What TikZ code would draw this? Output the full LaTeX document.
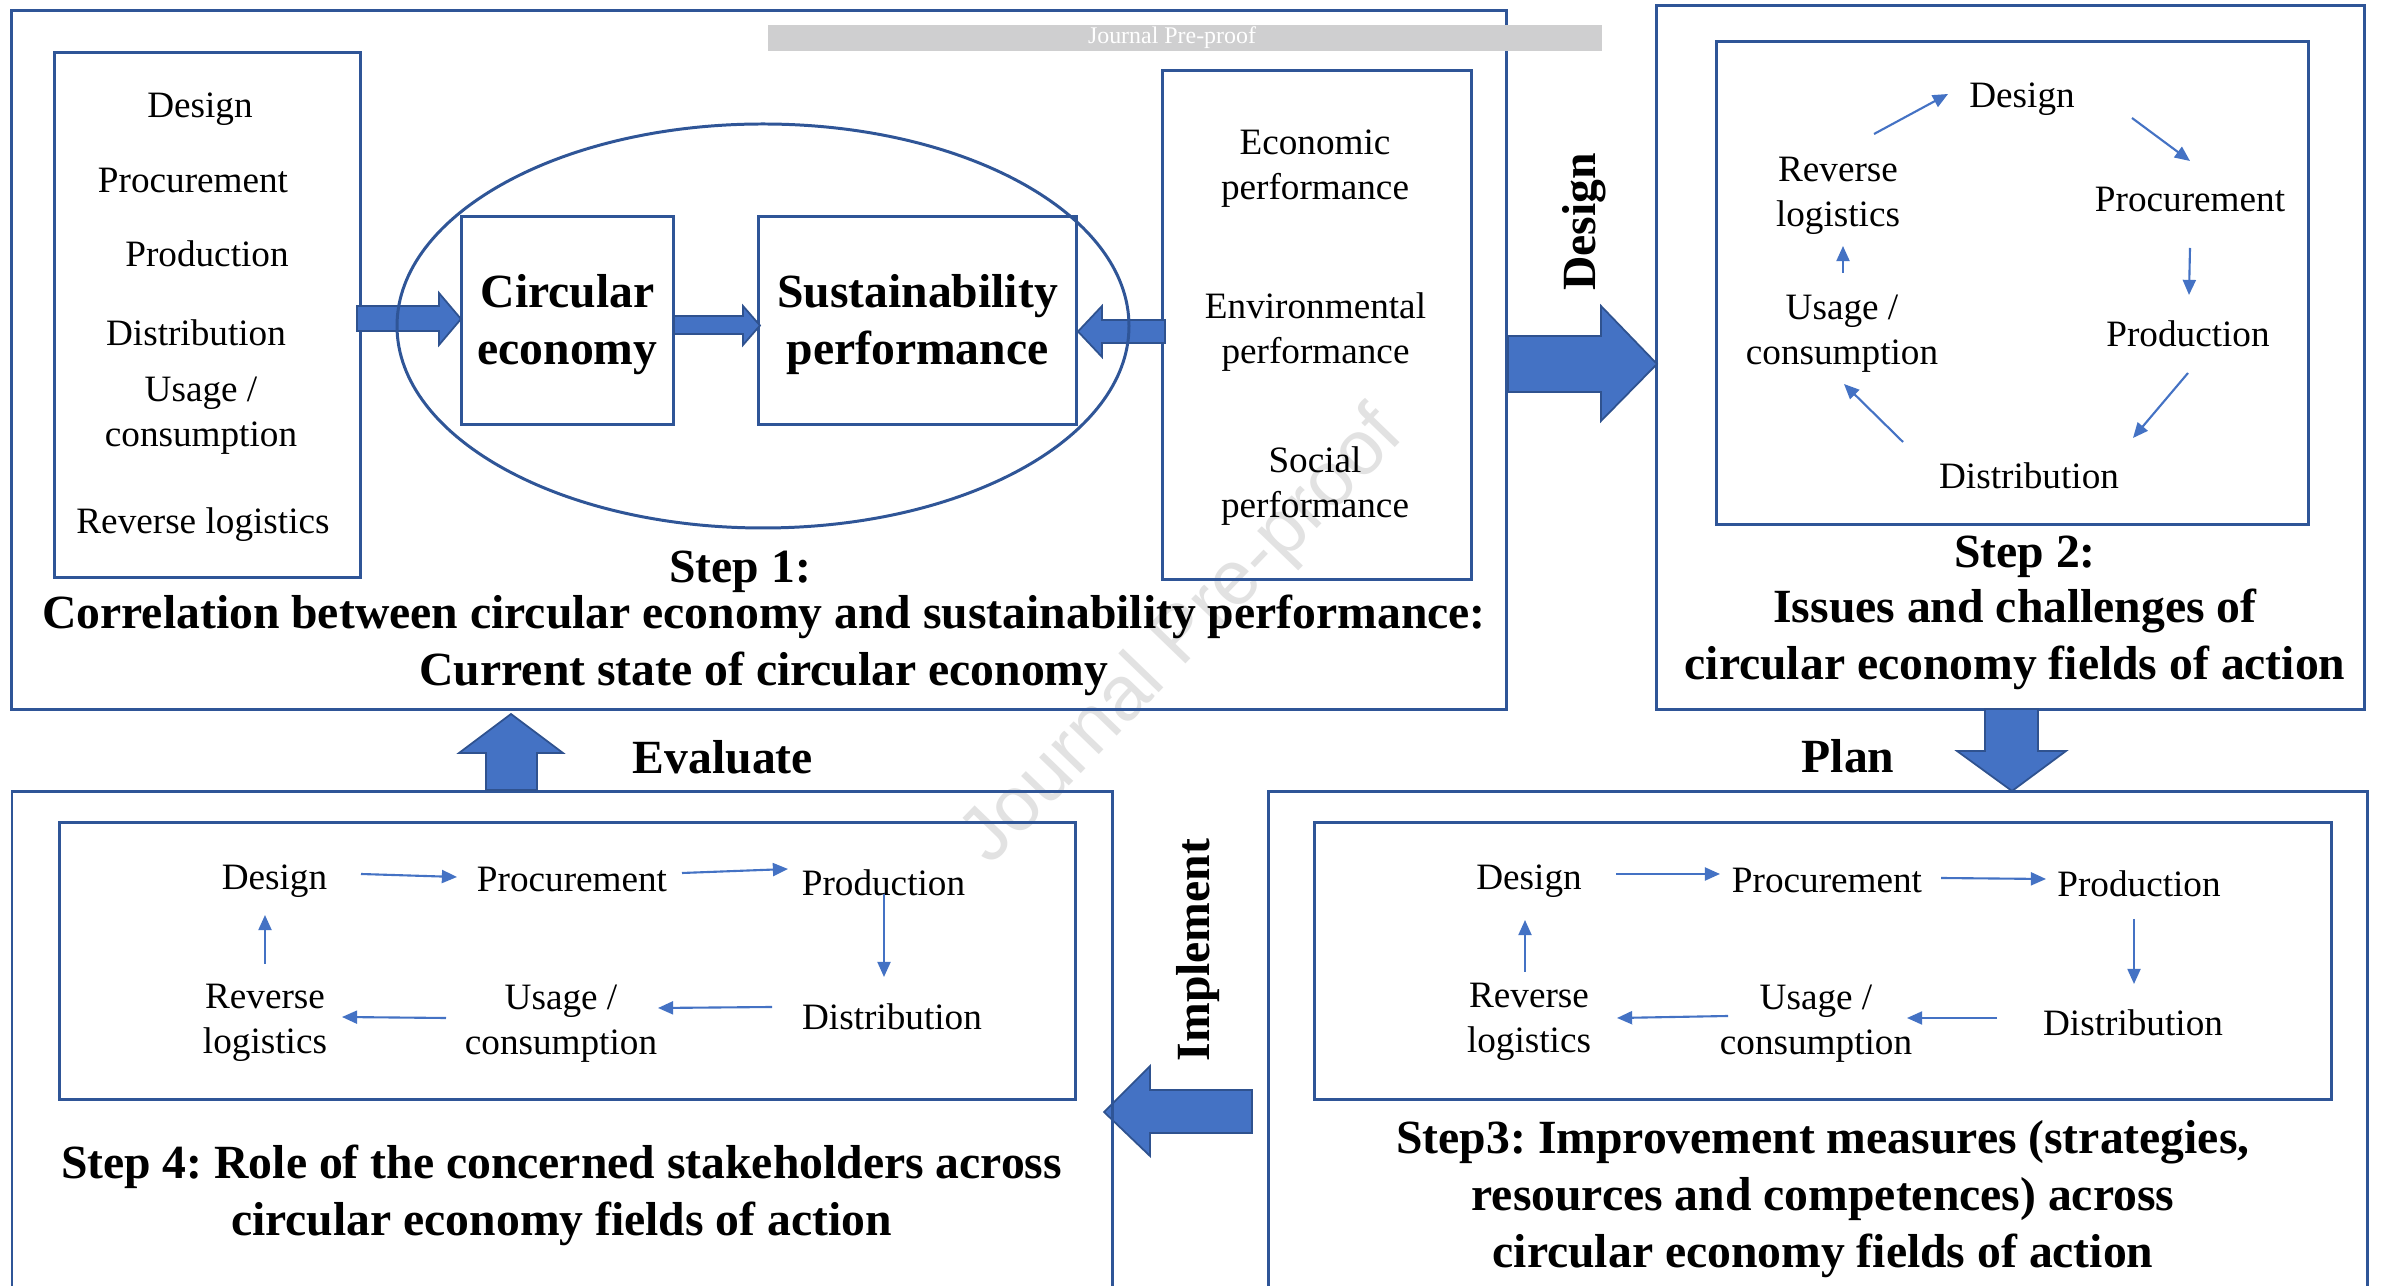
\documentclass[tikz,border=0pt]{standalone}
\usepackage{fontspec}
\setmainfont{Liberation Serif}
\newfontfamily\wmfont{Liberation Sans}
\usetikzlibrary{arrows.meta,calc}
\definecolor{boxc}{HTML}{2F5597}
\definecolor{arrf}{HTML}{4472C4}
\definecolor{arrd}{HTML}{2F528F}
\definecolor{barc}{HTML}{CFCFD0}
\definecolor{wmc}{HTML}{E2E2E2}
\frenchspacing
\begin{document}
\begin{tikzpicture}[x=0.01cm,y=-0.01cm,
  frame/.style={draw=boxc,line width=0.85pt,inner sep=0pt},
  item/.style={inner sep=0pt,outer sep=0pt,align=center,yshift=-0.04cm,font=\fontsize{10.58}{12.8}\selectfont},
  btitle/.style={inner sep=0pt,outer sep=0pt,align=center,yshift=-0.04cm,font=\fontsize{13.55}{16.2}\selectfont\bfseries},
  conn/.style={draw=arrf,line width=0.6pt,-{Triangle[length=4.3pt,width=3.7pt]}},
  blockarr/.style={fill=arrf,draw=arrd,line width=0.5pt,line join=miter},
]
\useasboundingbox (0,0) rectangle (2381,1286);
\fill[white] (0,0) rectangle (2381,1286);

% watermark
\node[font=\wmfont\fontsize{22}{22}\selectfont,text=wmc,rotate=46,inner sep=0pt] (wm) at (1184,638) {Journal Pre-proof};

% ---------- Step 1 ----------
\node[frame,minimum width=14.94cm,minimum height=6.98cm] (s1) at (759,360) {};
\node[frame,minimum width=3.05cm,minimum height=5.24cm] (lst) at (207.5,315) {};
\node[frame,minimum width=2.11cm,minimum height=2.07cm] (ce) at (567.5,320.5) {};
\node[frame,minimum width=3.17cm,minimum height=2.07cm] (sp) at (917.5,320.5) {};
\node[btitle] (cet) at (ce) {Circular\\economy};
\node[btitle] (spt) at (sp) {Sustainability\\performance};
\node[frame,minimum width=3.08cm,minimum height=5.08cm] (rb) at (1317,325) {};

\node[item] (a1) at (200,105) {Design};
\node[item] (a2) at (193,177) {Procurement};
\node[item] (a3) at (207,250) {Production};
\node[item] (a4) at (196,329) {Distribution};
\node[item] (a5) at (201,412) {Usage /\\consumption};
\node[item] (a6) at (203,521) {Reverse logistics};

\node[item] (e1) at (1315,165) {Economic\\performance};
\node[item] (e2) at (1315.5,328) {Environmental\\performance};
\node[item] (e3) at (1315,482) {Social\\performance};

% block arrows step 1
\draw[blockarr] (357,306)--(439,306)--(439,293)--(461,319)--(439,345)--(439,331)--(357,331)--cycle;
\draw[blockarr] (674,316)--(743,316)--(743,306)--(760,325.5)--(743,345)--(743,334)--(674,334)--cycle;
\draw[blockarr] (1165,320)--(1102,320)--(1102,306)--(1078,331.5)--(1102,357)--(1102,343)--(1165,343)--cycle;

\draw[draw=boxc,line width=0.85pt] (763,326) ellipse [x radius=366,y radius=202];

\node[btitle] (t1) at (764,619) {Step 1:\hspace*{13.5pt}\\[-3.1pt]Correlation between circular economy and sustainability performance:\\Current state of circular economy};

% gray bar
\fill[barc] (768,25) rectangle (1602,51);
\node[font=\fontsize{6.8}{6.8}\selectfont,text=white,inner sep=0pt] (jpp) at (1172,38) {Journal Pre-proof};

% ---------- Step 2 ----------
\node[frame,minimum width=7.07cm,minimum height=7.03cm] (s2) at (2010.5,357.5) {};
\node[frame,minimum width=5.91cm,minimum height=4.82cm] (s2in) at (2012.5,283) {};
\node[item] (b1) at (2022,95) {Design};
\node[item] (b2) at (2190,196) {Procurement};
\node[item] (b3) at (2188,330) {Production};
\node[item] (b4) at (2029,472) {Distribution};
\node[item] (b5) at (1842,330) {Usage /\\consumption};
\node[item] (b6) at (1838,192) {Reverse\\logistics};
\draw[conn] ($(b6)+(36,-62)$) -- ($(b1)+(-74,-5)$);
\draw[conn] ($(b1)+(110,19)$) -- ($(b2)+(0,-39)$);
\draw[conn] ($(b2)+(0,48)$) -- ($(b3)+(1,-39)$);
\draw[conn] ($(b3)+(0,39)$) -- ($(b4)+(104,-38)$);
\draw[conn] ($(b4)+(-126,-34)$) -- ($(b5)+(2,50)$);
\draw[conn] ($(b5)+(1,-61)$) -- ($(b6)+(5,50)$);
\node[btitle] (t2) at (2015,609) {\hspace*{5.7pt}Step 2:\\[-0.6pt]Issues and challenges of\\circular economy fields of action};

% Design arrow
\draw[blockarr] (1508,336)--(1601,336)--(1601,306)--(1657,364)--(1601,421)--(1601,392)--(1508,392)--cycle;
\node[btitle,rotate=90] (lD) at (1584,218) {Design};

% Plan arrow
\draw[blockarr] (1985,709)--(2038,709)--(2038,751)--(2066,751)--(2012,791)--(1957,751)--(1985,751)--cycle;
\node[btitle] (lP) at (1848,752) {Plan};

% ---------- Step 3 ----------
\draw[draw=boxc,line width=0.85pt] (1268,1286)--(1268,792)--(2367,792)--(2367,1286);
\node[frame,minimum width=10.16cm,minimum height=2.76cm] (s3in) at (1823,961) {};
\node[item] (c1) at (1529,877) {Design};
\node[item] (c2) at (1827,877) {Procurement};
\node[item] (c3) at (2139,880) {Production};
\node[item] (c4) at (2133,1019) {Distribution};
\node[item] (c5) at (1816,1020) {Usage /\\consumption};
\node[item] (c6) at (1529,1018) {Reverse\\logistics};
\draw[conn] ($(c1)+(87,-7)$) -- ($(c2)+(-107,-7)$);
\draw[conn] ($(c2)+(114,-3)$) -- ($(c3)+(-93,-5)$);
\draw[conn] ($(c3)+(-5,35)$) -- ($(c4)+(1,-39)$);
\draw[conn] ($(c4)+(-136,-5)$) -- ($(c5)+(91,-6)$);
\draw[conn] ($(c5)+(-88,-8)$) -- ($(c6)+(88,-4)$);
\draw[conn] ($(c6)+(-4,-50)$) -- ($(c1)+(-4,39)$);
\node[btitle] (t3) at (1823,1195) {Step3: Improvement measures (strategies,\\resources and competences) across\\circular economy fields of action};

% Implement arrow
\draw[blockarr] (1252,1090)--(1150,1090)--(1150,1066)--(1104,1112)--(1150,1156)--(1150,1133)--(1252,1133)--cycle;
\node[btitle,rotate=90] (lI) at (1198,946) {Implement};

% ---------- Step 4 ----------
\draw[draw=boxc,line width=0.85pt] (12,1286)--(12,792)--(1112,792)--(1112,1286);
\node[frame,minimum width=10.15cm,minimum height=2.76cm] (s4in) at (567.5,961) {};
\node[item] (d1) at (274.5,877) {Design};
\node[item] (d2) at (572,876) {Procurement};
\node[item] (d3) at (883.5,879) {Production};
\node[item] (d4) at (892,1013) {Distribution};
\node[item] (d5) at (561,1020) {Usage /\\consumption};
\node[item] (d6) at (265,1019) {Reverse\\logistics};
\draw[conn] ($(d1)+(86.5,-7)$) -- ($(d2)+(-115,-3)$);
\draw[conn] ($(d2)+(110,-7)$) -- ($(d3)+(-95.5,-14)$);
\draw[conn] ($(d3)+(0.5,11)$) -- ($(d4)+(-8,-40)$);
\draw[conn] ($(d4)+(-120,-10)$) -- ($(d5)+(97,-16)$);
\draw[conn] ($(d5)+(-115,-6)$) -- ($(d6)+(77,-6)$);
\draw[conn] ($(d6)+(0,-59)$) -- ($(d1)+(-9.5,34)$);
\node[btitle] (t4) at (561.5,1191.5) {Step 4: Role of the concerned stakeholders across\\circular economy fields of action};

% Evaluate arrow
\draw[blockarr] (486,790)--(486,753)--(459,753)--(511,714)--(563,753)--(537,753)--(537,790)--cycle;
\node[btitle] (lE) at (723,753) {Evaluate};
\end{tikzpicture}
\end{document}
